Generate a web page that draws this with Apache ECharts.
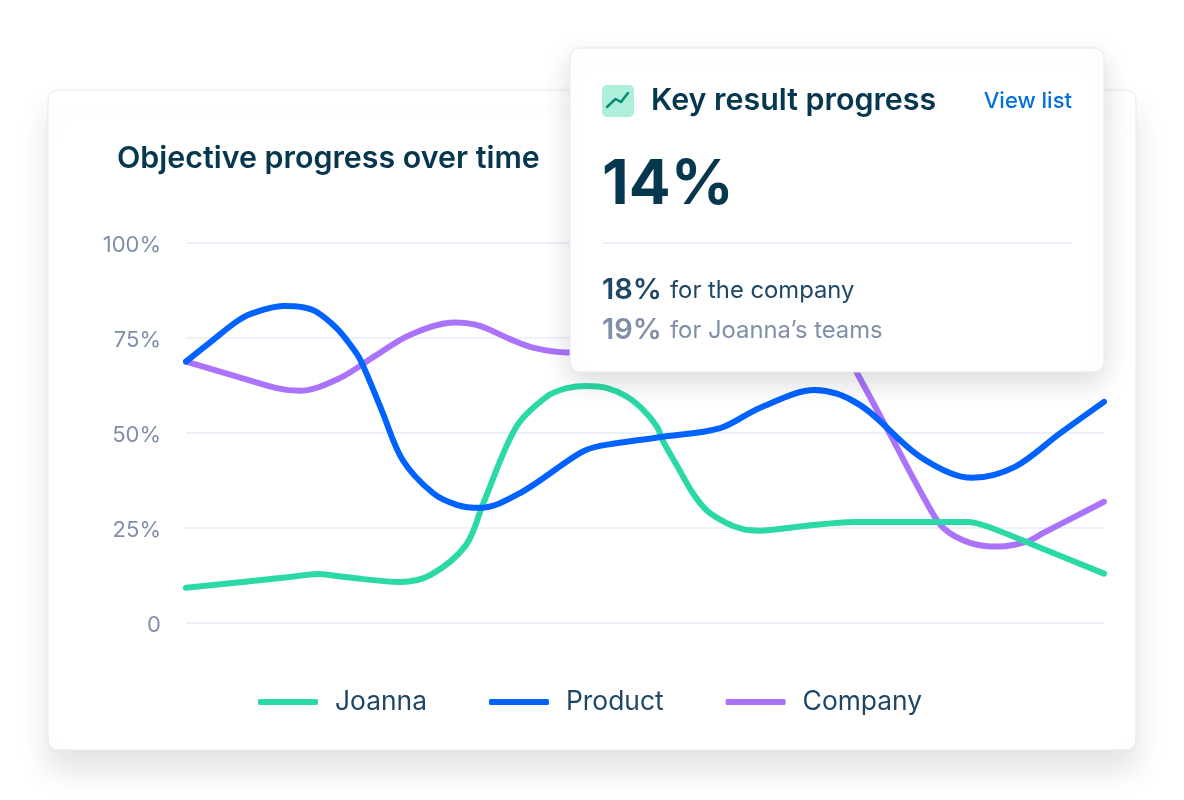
<!DOCTYPE html>
<html>
<head>
<meta charset="utf-8">
<style>html,body{margin:0;padding:0;background:#fff}#c{width:1184px;height:800px}</style>
<script src="https://cdn.jsdelivr.net/npm/echarts@6/dist/echarts.min.js"></script>
</head>
<body>
<div id="c"></div>
<script>
const joannaTime = [0,11.3,14.4,17.3,23.3,26.6,30.5,32.4,36.0,39.3,41.5,43.6,45.8,48.0,49.8,51.3,52.0,53.6,55.2,56.7,58.9,60.7,62.5,66.9,72.9,85.1,87.3,93.6,100];
const joanna     = [9.3,12.1,12.9,12.1,10.8,12.6,20.5,31.6,51.7,59.6,61.8,62.4,61.9,59.6,56.1,51.7,47.7,40.9,34.2,29.7,26.3,24.7,24.3,25.4,26.6,26.6,25.4,19.3,13.0];
const productTime = [0,2.7,5.5,7.0,10.6,12.7,14.2,16.4,17.9,19.0,21.3,23.6,26.9,29.5,32.0,36.4,42.9,45.1,51.6,58.2,62.5,68.5,73.4,80.0,85.6,90.3,95.2,100];
const product     = [68.8,74,79.3,81.3,83.4,83.1,81.9,77.6,73.2,69.2,56.1,42.9,34.2,31.1,30.3,34.2,44.7,46.6,48.9,51.3,56.6,61.3,57.4,43.7,38.2,41.1,49.9,58.2];
const companyTime = [0,4.9,9.9,12.4,16.8,20.6,24.4,29.3,32.0,35.3,37.9,41.5,47.3,56,64.7,69.6,73.1,76.9,80.7,82.5,85.4,88.5,91.6,93.4,100];
const company     = [68.8,65.3,61.8,61.1,64.5,70.3,75.8,79.1,78.2,74.7,72.4,71.2,73.2,83.7,88.9,81,65.8,48.7,31.6,25,21.1,20.1,21.4,23.7,31.9];
const legendNames = ['Joanna','Product','Company'];
const yTicks = {0:'0',25:'25%',50:'50%',75:'75%',100:'100%'};

const F = 'Inter, sans-serif';
const DARK = '#05374F', MID = '#1E4766', GREY = '#7F8FA9', LINE = '#ECF1FA';

function line(name, xs, ys, color){
  return {name, type:'line', data:xs.map((x,i)=>[x,ys[i]]), smooth:0.33, symbol:'none',
    lineStyle:{width:6,color,cap:'round',join:'round'}, itemStyle:{color}};
}
function txt(x,y,text,size,weight,fill,align){
  return {type:'text',x,y,z:102,style:{text,fontFamily:F,fontSize:size,fontWeight:weight,fill,align:align||'left',verticalAlign:'middle'}};
}
const chart = echarts.init(document.getElementById('c'),null,{renderer:'canvas'});
chart.setOption({
  animation:false,
  backgroundColor:'#fff',
  title:{text:'Objective progress over time',left:117,top:141,padding:0,
    textStyle:{fontFamily:F,fontSize:30.4,fontWeight:600,color:DARK,lineHeight:36}},
  grid:{left:186,right:80,top:243,height:380,containLabel:false},
  xAxis:{type:'value',min:0,max:100,show:false},
  yAxis:{type:'value',min:0,max:100,interval:25,
    axisLine:{show:false},axisTick:{show:false},
    splitLine:{lineStyle:{color:LINE,width:2}},
    axisLabel:{margin:25,fontFamily:F,fontSize:22,color:GREY,verticalAlign:'top',lineHeight:4,formatter:v=>yTicks[v]}},
  legend:{data:legendNames,left:258,top:689,padding:0,itemWidth:60,itemHeight:6,itemGap:62,icon:'roundRect',
    textStyle:{fontFamily:F,fontSize:26.4,color:MID,padding:[2,0,0,12]}},
  series:[line('Company',companyTime,company,'#AB73FA'),line('Joanna',joannaTime,joanna,'#2BD9A6'),line('Product',productTime,product,'#0062FF')],
  graphic:[
    {type:'rect',z:-10,shape:{x:48,y:90,width:1088,height:660,r:10},
      style:{fill:'#fff',stroke:'#E9E9EC',lineWidth:1,shadowColor:'rgba(20,30,50,0.13)',shadowBlur:30,shadowOffsetY:20}},
    {type:'rect',z:100,shape:{x:570,y:48,width:534,height:324,r:10},
      style:{fill:'#fff',stroke:'#E9E9EC',lineWidth:1,shadowColor:'rgba(20,30,50,0.16)',shadowBlur:28,shadowOffsetY:10}},
    {type:'rect',z:101,shape:{x:602,y:85,width:32,height:32,r:5},style:{fill:'#AEEFDC'}},
    {type:'polyline',z:102,shape:{points:[[607,107],[615.5,99],[621,102],[628,93]]},
      style:{fill:null,stroke:'#0A8A70',lineWidth:2.5,lineCap:'round',lineJoin:'round'}},
    {type:'rect',z:101,shape:{x:602,y:242,width:470,height:2},style:{fill:LINE}},
    txt(651,101,'Key result progress',30.4,600,DARK),
    txt(1072,101,'View list',22,500,'#0070E0','right'),
    txt(602,185,'14%',62,700,DARK),
    txt(602,290,'18%',29,600,MID),
    txt(670,291,'for the company',23.8,400,MID),
    txt(602,330,'19%',29,600,GREY),
    txt(670,331,'for Joanna\u2019s teams',23.8,400,GREY)
  ]
});
</script>
</body>
</html>
